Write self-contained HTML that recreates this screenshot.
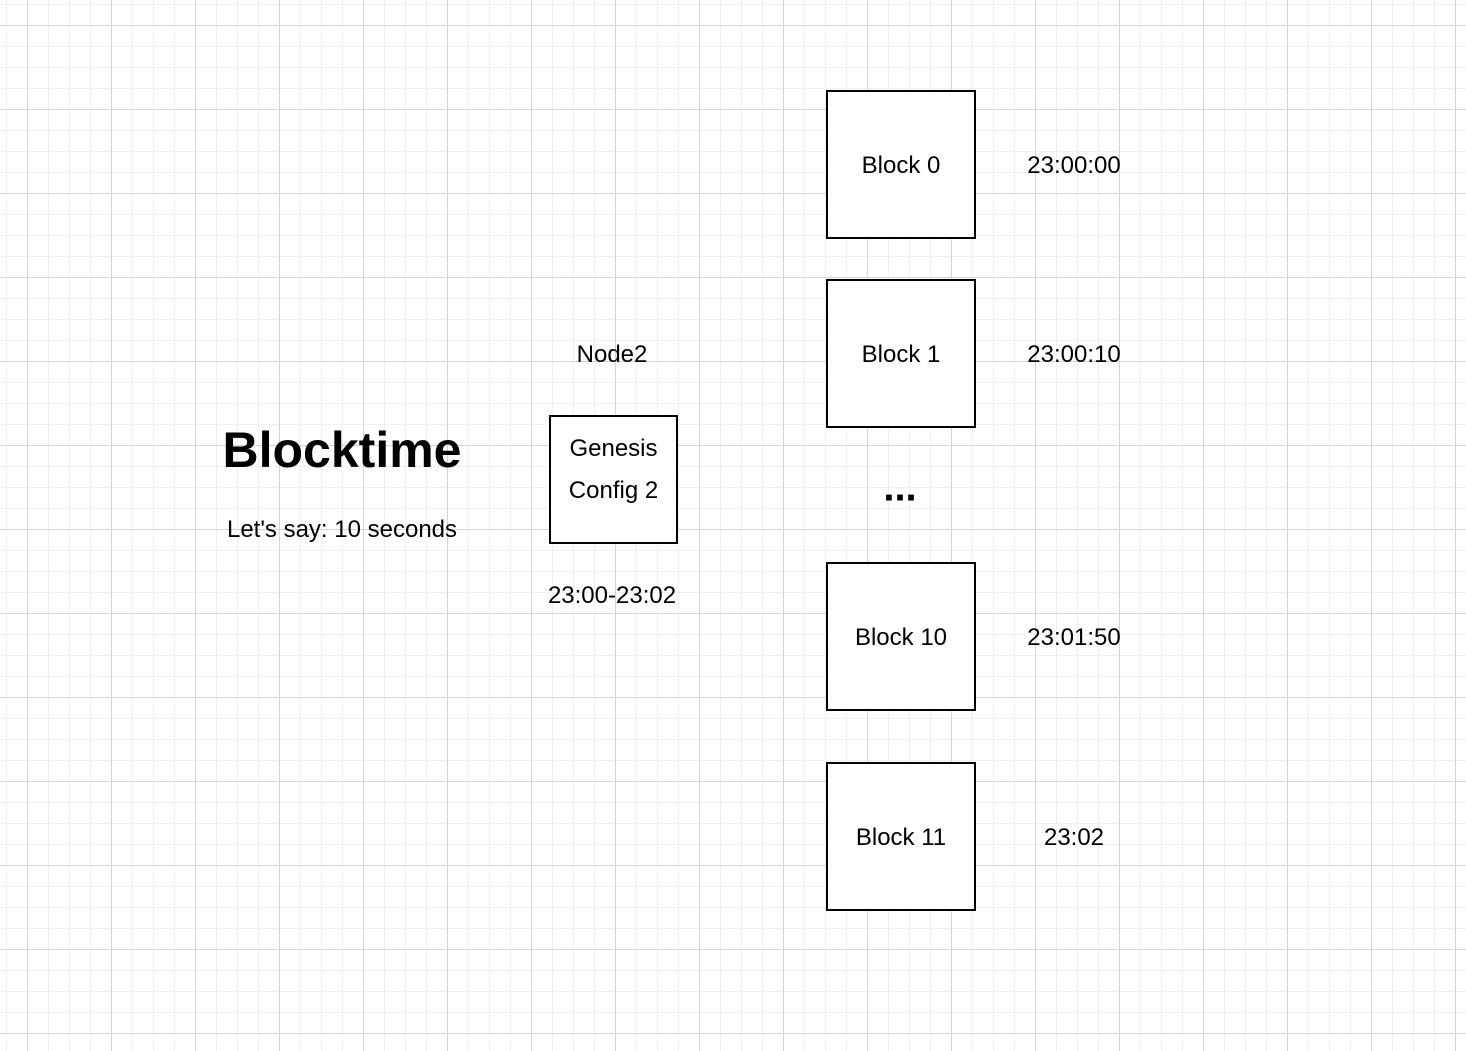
<!DOCTYPE html>
<html><head><style>
html,body{margin:0;padding:0;}
body{width:1466px;height:1051px;position:relative;overflow:hidden;background:#fff;
background-image:
linear-gradient(to right,#d4d4d4 1px,transparent 1px),
linear-gradient(to bottom,#d4d4d4 1px,transparent 1px),
linear-gradient(to right,#f0f0f0 1px,transparent 1px),
linear-gradient(to bottom,#f0f0f0 1px,transparent 1px);
background-size:84px 84px,84px 84px,21px 21px,21px 21px;
background-position:27px 0,0 25px,6px 0,0 4px;
font-family:"Liberation Sans",Arial,sans-serif;color:#000;}
.b{position:absolute;border:2px solid #000;background:#fff;box-sizing:border-box;display:flex;align-items:center;justify-content:center;font-size:24px;text-align:center;}
.t{position:absolute;font-size:24px;white-space:nowrap;transform:translate(-50%,-50%);}
</style></head><body>
<div class="b" style="left:826px;top:90px;width:150px;height:149px;"><span style="margin-top:2px">Block 0</span></div>
<div class="b" style="left:826px;top:279px;width:150px;height:149px;"><span style="margin-top:2px">Block 1</span></div>
<div class="b" style="left:826px;top:562px;width:150px;height:149px;"><span style="margin-top:2px">Block 10</span></div>
<div class="b" style="left:826px;top:762px;width:150px;height:149px;"><span style="margin-top:2px">Block 11</span></div>
<div class="b" style="left:549px;top:415px;width:129px;height:129px;line-height:42px;"><span style="margin-top:-20px">Genesis<br>Config 2</span></div>
<div class="t" style="left:1074px;top:166px;">23:00:00</div>
<div class="t" style="left:1074px;top:355px;">23:00:10</div>
<div class="t" style="left:1074px;top:638px;">23:01:50</div>
<div class="t" style="left:1074px;top:838px;">23:02</div>
<div class="t" style="left:612px;top:355px;">Node2</div>
<div class="t" style="left:612px;top:596px;">23:00-23:02</div>
<div class="t" style="left:900px;top:488px;font-size:40px;font-weight:bold;">...</div>
<div class="t" style="left:342px;top:450px;font-size:50px;font-weight:bold;">Blocktime</div>
<div class="t" style="left:342px;top:530px;">Let's say: 10 seconds</div>
</body></html>
